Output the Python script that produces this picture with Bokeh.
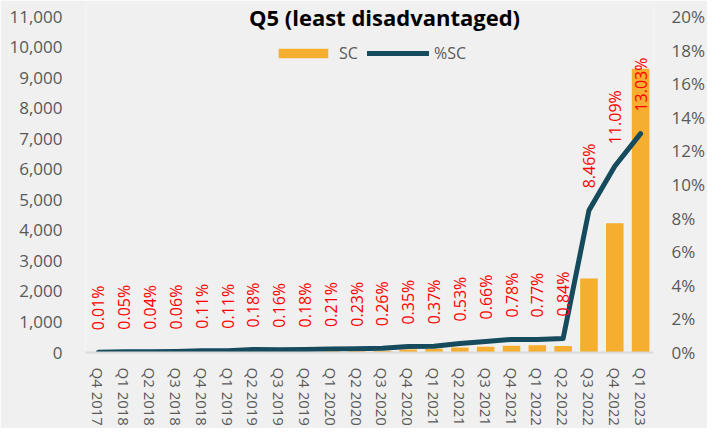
from math import pi
from bokeh.plotting import figure
from bokeh.models import (ColumnDataSource, FactorRange, Range1d, LinearAxis, FixedTicker,
                          NumeralTickFormatter, PrintfTickFormatter, Label, Legend, LegendItem)
from bokeh.core.properties import value
from bokeh.embed import file_html
from bokeh.resources import INLINE

categories = ["Q4 2017", "Q1 2018", "Q2 2018", "Q3 2018", "Q4 2018", "Q1 2019", "Q2 2019",
              "Q3 2019", "Q4 2019", "Q1 2020", "Q2 2020", "Q3 2020", "Q4 2020", "Q1 2021",
              "Q2 2021", "Q3 2021", "Q4 2021", "Q1 2022", "Q2 2022", "Q3 2022", "Q4 2022",
              "Q1 2023"]
sc_values = [3, 12, 10, 15, 28, 28, 45, 40, 45, 52, 58, 60, 100, 120, 160, 190, 220, 240,
             210, 2420, 4230, 9290]
pct_sc = [0.01, 0.05, 0.04, 0.06, 0.11, 0.11, 0.18, 0.16, 0.18, 0.21, 0.23, 0.26, 0.35, 0.37,
          0.53, 0.66, 0.78, 0.77, 0.84, 8.46, 11.09, 13.03]
left_max = 11000
right_max = 20
left_ticks = list(range(0, left_max + 1, 1000))
right_ticks = list(range(0, right_max + 1, 2))
title_text = "Q5 (least disadvantaged)"

FONT = "Open Sans"
BG = "#F0F0F0"
GREY = "#595959"

# layout (pixels)
W, H = 707, 428
TOP_BORDER = 2
BOTTOM_BORDER = 76
TOP_TICK_Y = 16  # where the highest tick should sit, from figure top
frame_h = H - TOP_BORDER - BOTTOM_BORDER
extra = (TOP_TICK_Y - TOP_BORDER) / (frame_h - (TOP_TICK_Y - TOP_BORDER))

src = ColumnDataSource(dict(cat=categories, sc=sc_values, pct=pct_sc,
                            lbl=["%.2f%%" % v for v in pct_sc]))

p = figure(x_range=FactorRange(factors=categories, range_padding=0),
           y_range=Range1d(0, left_max * (1 + extra)), width=W, height=H,
           output_backend="svg", toolbar_location=None,
           background_fill_color=BG, border_fill_color=BG, outline_line_color=None,
           min_border_left=85, min_border_right=46, min_border_top=TOP_BORDER,
           min_border_bottom=BOTTOM_BORDER)
p.extra_y_ranges = {"pct": Range1d(0, right_max * (1 + extra))}

p.xgrid.visible = False
p.ygrid.visible = False

yl = p.yaxis[0]
yl.ticker = FixedTicker(ticks=left_ticks)
yl.formatter = NumeralTickFormatter(format="0,0")
yl.axis_line_color = None
yl.major_tick_line_color = None
yl.minor_tick_line_color = None
yl.major_label_standoff = 17
yl.major_label_text_font = FONT
yl.major_label_text_font_size = "17px"
yl.major_label_text_color = GREY

yr = LinearAxis(y_range_name="pct", ticker=FixedTicker(ticks=right_ticks),
                formatter=PrintfTickFormatter(format="%d%%"))
yr.axis_line_color = None
yr.major_tick_line_color = None
yr.minor_tick_line_color = None
yr.major_label_standoff = 12
yr.major_label_text_font = FONT
yr.major_label_text_font_size = "17px"
yr.major_label_text_color = GREY
p.add_layout(yr, "right")

xa = p.xaxis[0]
xa.axis_line_color = "#D9D9D9"
xa.axis_line_width = 2
xa.major_tick_line_color = None
xa.minor_tick_line_color = None
xa.major_label_orientation = "vertical"
xa.major_label_standoff = 9
xa.major_label_text_font = FONT
xa.major_label_text_font_size = "15px"
xa.major_label_text_color = GREY

bars = p.vbar(x="cat", top="sc", width=0.68, source=src, fill_color="#F5AE2F",
              line_color=None)
line = p.line(x="cat", y="pct", source=src, y_range_name="pct", line_color="#164B5E",
              line_width=5, line_cap="round", line_join="round")
p.text(x="cat", y="pct", text="lbl", source=src, y_range_name="pct", angle=pi / 2,
       text_align="left", text_baseline="middle", y_offset=-22, text_color="#FF0000",
       text_font=value(FONT), text_font_size="16px")

p.add_layout(Label(x=len(categories) / 2, y=left_max, x_offset=15, text=title_text,
                   text_align="center", text_baseline="middle", text_font=FONT,
                   text_font_size="22px", text_font_style="bold", text_color="black"))

legend = Legend(items=[LegendItem(label="SC", renderers=[bars]),
                       LegendItem(label="%SC", renderers=[line])],
                orientation="horizontal", location="top_center",
                glyph_width=62, glyph_height=12, label_height=12, label_standoff=5,
                spacing=8, padding=0, margin=40, background_fill_alpha=0,
                border_line_alpha=0, label_text_font=FONT, label_text_font_size="16px",
                label_text_color=GREY)
p.add_layout(legend)

open("out.html", "w").write(file_html(p, INLINE))
